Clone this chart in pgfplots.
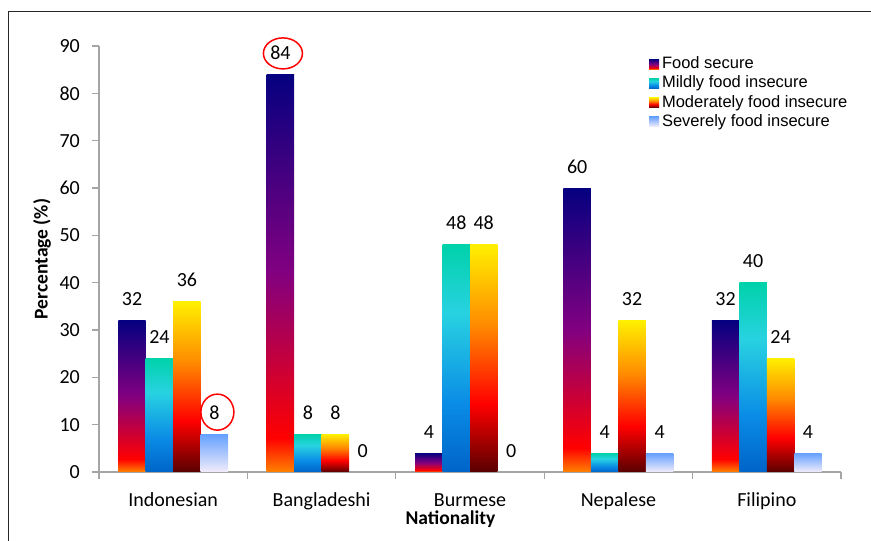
\documentclass[border=0pt]{standalone}
\usepackage{pgfplots}
\pgfplotsset{compat=1.18}
\usepackage{fontspec}
\setmainfont{Carlito}
\newfontfamily\legfont{Liberation Sans}

\definecolor{axisgray}{RGB}{165,165,165}
\definecolor{fsA}{RGB}{255,130,0}
\definecolor{fsB}{RGB}{255,0,0}
\definecolor{fsC}{RGB}{130,0,128}
\definecolor{fsD}{RGB}{5,0,128}
\definecolor{miA}{RGB}{0,100,200}
\definecolor{miB}{RGB}{10,140,230}
\definecolor{miC}{RGB}{40,210,225}
\definecolor{miD}{RGB}{0,210,170}
\definecolor{moA}{RGB}{90,0,0}
\definecolor{moB}{RGB}{255,0,0}
\definecolor{moC}{RGB}{255,140,0}
\definecolor{moD}{RGB}{255,240,0}
\definecolor{seA}{RGB}{242,236,250}
\definecolor{seD}{RGB}{100,160,255}

\pgfdeclareverticalshading{fsshade}{100bp}{color(0bp)=(fsA); color(25bp)=(fsA); color(29.25bp)=(fsB); color(50bp)=(fsC); color(75bp)=(fsD); color(100bp)=(fsD)}
\pgfdeclareverticalshading{mishade}{100bp}{color(0bp)=(miA); color(25bp)=(miA); color(40bp)=(miB); color(60bp)=(miC); color(75bp)=(miD); color(100bp)=(miD)}
\pgfdeclareverticalshading{moshade}{100bp}{color(0bp)=(moA); color(25bp)=(moA); color(40bp)=(moB); color(57.5bp)=(moC); color(75bp)=(moD); color(100bp)=(moD)}
\pgfdeclareverticalshading{seshade}{100bp}{color(0bp)=(seA); color(25bp)=(seA); color(75bp)=(seD); color(100bp)=(seD)}

\pgfplotsset{
  myleg/.style={legend image code/.code={\path[##1, draw=none] (0bp,-5bp) rectangle (10bp,5bp);}},
  fs/.style={draw=none, shade, shading=fsshade, bar shift=-0.2775},
  mi/.style={draw=none, shade, shading=mishade, bar shift=-0.0925},
  mo/.style={draw=none, shade, shading=moshade, bar shift=0.0925},
  se/.style={draw=none, shade, shading=seshade, bar shift=0.2775},
  sezero/.style={draw=none, fill=none, bar shift=0.2775},
}

\begin{document}
\begin{tikzpicture}
\useasboundingbox (0bp,0bp) rectangle (871bp,541bp);
\draw[black!85, line width=0.9bp] (8bp,0bp) -- (8bp,530bp) -- (871bp,530bp);
\begin{axis}[
  at={(99bp,69bp)}, anchor=south west,
  scale only axis, width=742bp, height=426bp,
  xmin=-0.5, xmax=4.5, ymin=0, ymax=90,
  ybar=0pt, bar width=0.185,
  axis x line*=bottom, axis y line*=left,
  axis line style={draw=axisgray, line width=1.2bp},
  tick style={axisgray, line width=1.2bp},
  major x tick style={draw=none},
  tick align=outside, major tick length=7bp, minor tick length=7bp,
  ytick={0,10,...,90},
  xtick={0,1,2,3,4},
  xticklabels={Indonesian,Bangladeshi,Burmese,Nepalese,Filipino},
  minor xtick={-0.5,0.5,1.5,2.5,3.5,4.5},
  /pgf/number format/assume math mode=true,
  ticklabel style={font=\fontsize{20bp}{24bp}\selectfont},
  yticklabel style={anchor=east, inner sep=0pt, xshift=-12bp},
  xticklabel style={anchor=base, inner sep=0pt, yshift=-27bp},
  xlabel={Nationality},
  ylabel={Percentage (\%)},
  xlabel style={font=\fontsize{19.5bp}{23bp}\selectfont\bfseries, at={(axis description cs:0.4737,0)}, anchor=base, yshift=-52bp, inner sep=0pt},
  ylabel style={font=\fontsize{19.5bp}{23bp}\selectfont\bfseries, at={(axis description cs:-0.0768,0.5)}, anchor=center},
  nodes near coords,
  nodes near coords style={font=\fontsize{20bp}{24bp}\selectfont, anchor=base, inner sep=0pt, yshift=15bp, text=black},
  clip=false,
  legend style={at={(rel axis cs:0.741,0.980)}, anchor=north west, draw=none, fill=none,
    font=\legfont\fontsize{16.5bp}{19bp}\selectfont, inner sep=0pt, row sep=0pt,
    nodes={inner sep=1.5bp, text height=12.6bp, text depth=3.5bp},
    /tikz/every odd column/.append style={column sep=1.5bp}},
  legend cell align=left,
]
% Food secure
\addplot[fs, myleg] coordinates {(0,32)};
\addlegendentry{Food secure}
\addplot[fs, forget plot] coordinates {(1,84)};
\addplot[fs, forget plot] coordinates {(2,4)};
\addplot[fs, forget plot] coordinates {(3,60)};
\addplot[fs, forget plot] coordinates {(4,32)};
% Mildly food insecure
\addplot[mi, myleg] coordinates {(0,24)};
\addlegendentry{Mildly food insecure}
\addplot[mi, forget plot] coordinates {(1,8)};
\addplot[mi, forget plot] coordinates {(2,48)};
\addplot[mi, forget plot] coordinates {(3,4)};
\addplot[mi, forget plot] coordinates {(4,40)};
% Moderately food insecure
\addplot[mo, myleg] coordinates {(0,36)};
\addlegendentry{Moderately food insecure}
\addplot[mo, forget plot] coordinates {(1,8)};
\addplot[mo, forget plot] coordinates {(2,48)};
\addplot[mo, forget plot] coordinates {(3,32)};
\addplot[mo, forget plot] coordinates {(4,24)};
% Severely food insecure
\addplot[se, myleg] coordinates {(0,8)};
\addlegendentry{Severely food insecure}
\addplot[sezero, forget plot] coordinates {(1,0)};
\addplot[sezero, forget plot] coordinates {(2,0)};
\addplot[se, forget plot] coordinates {(3,4)};
\addplot[se, forget plot] coordinates {(4,4)};
\draw[red, line width=1.5bp] ([xshift=2.5bp,yshift=21bp]axis cs:0.7225,84) ellipse [x radius=19.5bp, y radius=15.5bp];
\draw[red, line width=1.5bp] ([xshift=3bp,yshift=22bp]axis cs:0.2775,8) ellipse [x radius=16.5bp, y radius=18bp];
\end{axis}
\end{tikzpicture}
\end{document}
